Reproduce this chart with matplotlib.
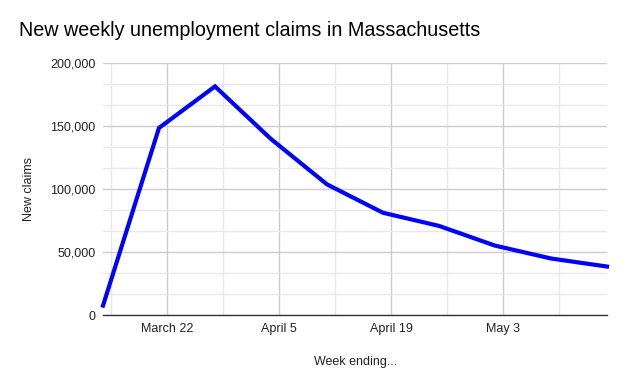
import matplotlib
matplotlib.use("Agg")
import matplotlib.pyplot as plt
import matplotlib.dates as mdates
import numpy as np
import datetime as dt

week_ending = ["2020-03-14", "2020-03-21", "2020-03-28", "2020-04-04", "2020-04-11",
               "2020-04-18", "2020-04-25", "2020-05-02", "2020-05-09", "2020-05-16"]
new_claims = [7449, 148452, 181423, 139647, 103683, 81132, 70714, 55074, 44841, 38459]
major_dates = ["2020-03-22", "2020-04-05", "2020-04-19", "2020-05-03"]
major_labels = ["March 22", "April 5", "April 19", "May 3"]
minor_dates = ["2020-03-15", "2020-03-29", "2020-04-12", "2020-04-26", "2020-05-10"]
y_ticks = [0, 50000, 100000, 150000, 200000]

plt.rcParams['font.family'] = ['Liberation Sans', 'DejaVu Sans']

dates = [dt.datetime.strptime(d, "%Y-%m-%d") for d in week_ending]
maj = [mdates.date2num(dt.datetime.strptime(d, "%Y-%m-%d")) for d in major_dates]
mnr = [mdates.date2num(dt.datetime.strptime(d, "%Y-%m-%d")) for d in minor_dates]

fig = plt.figure(figsize=(6.27, 3.87), dpi=100)
ax = fig.add_axes([103/627, 1-315/387, (607-103)/627, (315-63)/387])

ax.plot(dates, new_claims, color="#0000ff", lw=3, solid_joinstyle="miter", zorder=3, clip_on=False)

ax.set_xlim(mdates.date2num(dates[0]), mdates.date2num(dates[-1]))
ax.set_ylim(0, 200000)

ax.set_xticks(maj)
ax.set_xticklabels(major_labels)
ax.set_xticks(mnr, minor=True)
ax.set_yticks(y_ticks)
ax.set_yticklabels([f"{v:,}" for v in y_ticks])
minor_y = []
for a, b in zip(y_ticks[:-1], y_ticks[1:]):
    minor_y += [a + (b - a) / 3, a + 2 * (b - a) / 3]
ax.set_yticks(minor_y, minor=True)

ax.grid(which="major", color="#cccccc", lw=1)
ax.grid(which="minor", color="#e8e8e8", lw=1)
ax.set_axisbelow(True)
ax.tick_params(which="both", length=0)
ax.tick_params(axis="y", pad=5.5, labelsize=9, labelcolor="#222222")
ax.tick_params(axis="x", pad=6, labelsize=9, labelcolor="#222222")

for s in ["top", "right", "left"]:
    ax.spines[s].set_visible(False)
ax.spines["bottom"].set_color("#333333")
ax.spines["bottom"].set_linewidth(1)
ax.spines["bottom"].set_zorder(4)

ax.set_ylabel("New claims", fontsize=9, color="#222222")
ax.yaxis.set_label_coords((35 - 103) / 504, 0.5)
ax.set_xlabel("Week ending...", fontsize=9, color="#222222")
ax.xaxis.set_label_coords((355 - 103) / 504, (315 - 356) / 252)

fig.text(19/627, 1-31/387, "New weekly unemployment claims in Massachusetts",
         fontsize=14.2, color="#000000", ha="left", va="center")

fig.savefig("out.png", dpi=100)
